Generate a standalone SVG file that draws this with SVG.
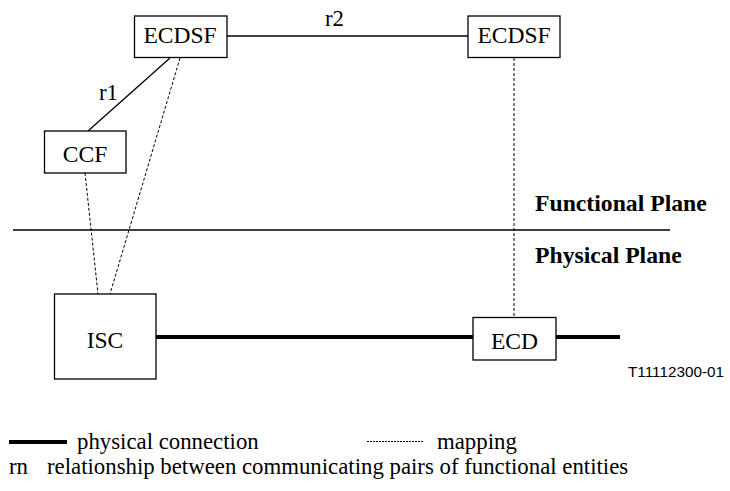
<svg xmlns="http://www.w3.org/2000/svg" width="730" height="491" viewBox="0 0 730 491">
<style>
.box{fill:#fff;stroke:#000;stroke-width:1.3}
.lbl{font-family:'Liberation Serif','Times New Roman',serif;font-size:23.5px;fill:#000;text-anchor:middle}
.txt{font-family:'Liberation Serif','Times New Roman',serif;font-size:22.8px;fill:#000}
.bold{font-family:'Liberation Serif','Times New Roman',serif;font-size:23.7px;font-weight:bold;fill:#000}
.thin{stroke:#000;stroke-width:1.3;fill:none}
.thick{stroke:#000;stroke-width:4;fill:none}
.dash{stroke:#000;stroke-width:1;stroke-dasharray:3 2;fill:none}
</style>
<rect width="730" height="491" fill="#fff"/>
<g id="connectors">
  <line class="thin" x1="227" y1="36" x2="468" y2="36"/>
  <line class="thin" x1="170" y1="58" x2="88" y2="131"/>
  <line class="dash" x1="180" y1="58" x2="110" y2="294"/>
  <line class="dash" x1="85" y1="173" x2="98" y2="294"/>
  <line class="dash" x1="514" y1="58" x2="514" y2="317"/>
  <line class="thick" x1="156" y1="337" x2="473" y2="337"/>
  <line class="thick" x1="556" y1="337" x2="620" y2="337"/>
</g>
<line class="thin" x1="13" y1="230" x2="670" y2="230"/>
<text class="txt" x="325" y="26">r2</text>
<text class="txt" x="99" y="100">r1</text>
<g id="ecdsf1">
  <rect class="box" x="134.5" y="16" width="92.5" height="41.5"/>
  <text class="lbl" x="180" y="42.5">ECDSF</text>
</g>
<g id="ecdsf2">
  <rect class="box" x="468" y="16" width="92" height="41.5"/>
  <text class="lbl" x="514" y="42.5">ECDSF</text>
</g>
<g id="ccf">
  <rect class="box" x="44.5" y="131" width="81.5" height="42"/>
  <text class="lbl" x="85" y="162">CCF</text>
</g>
<g id="isc">
  <rect class="box" x="54.5" y="294" width="101.5" height="85"/>
  <text class="lbl" x="105" y="348">ISC</text>
</g>
<g id="ecd">
  <rect class="box" x="473" y="317.5" width="83" height="42.5"/>
  <text class="lbl" x="514.5" y="349">ECD</text>
</g>
<text class="bold" x="535" y="211">Functional Plane</text>
<text class="bold" x="535" y="263">Physical Plane</text>
<text x="628" y="377" font-family="'Liberation Sans',Arial,sans-serif" font-size="15.3" fill="#000">T11112300-01</text>
<g id="legend">
  <line class="thick" x1="9" y1="442" x2="67" y2="442"/>
  <text class="txt" x="77" y="449">physical connection</text>
  <line stroke="#000" stroke-width="1" stroke-dasharray="2 1" x1="367" y1="441.5" x2="423" y2="441.5"/>
  <text class="txt" x="437" y="449">mapping</text>
  <text class="txt" x="9" y="474">rn</text>
  <text class="txt" x="47" y="474">relationship between communicating pairs of functional entities</text>
</g>
</svg>
